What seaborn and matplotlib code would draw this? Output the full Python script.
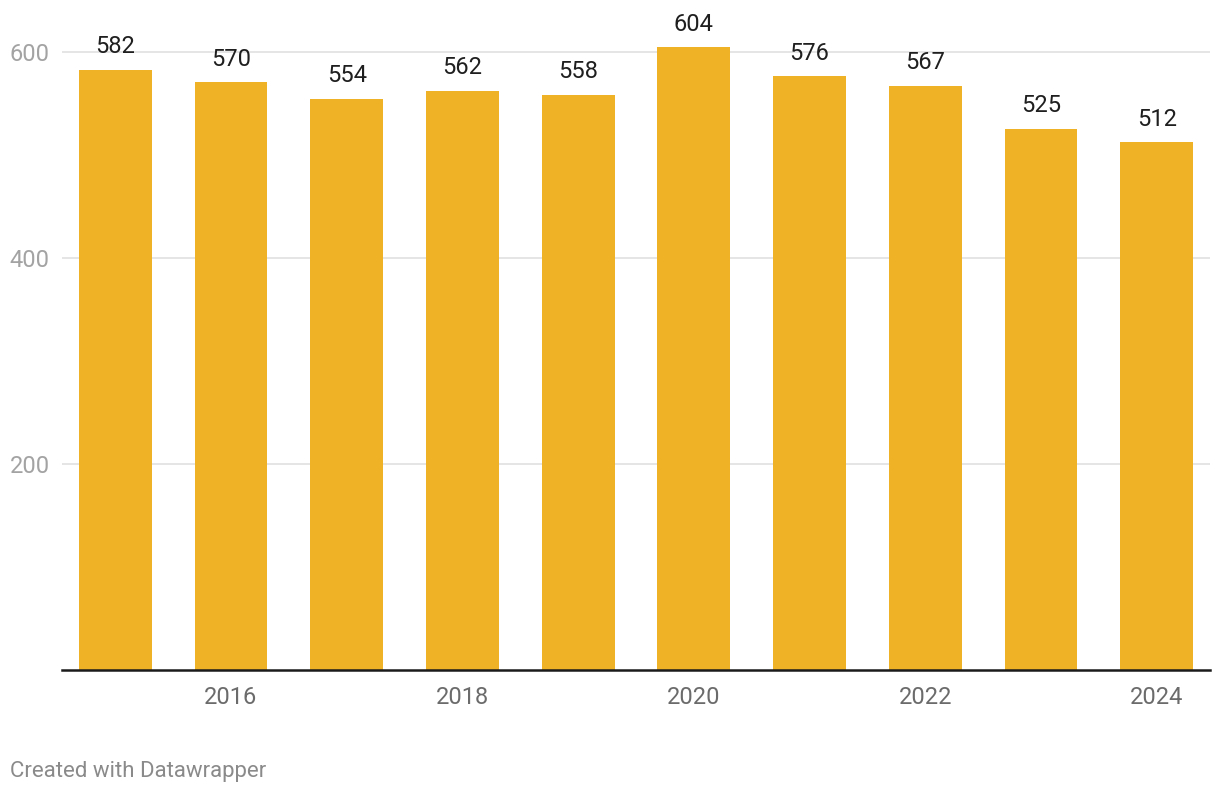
import matplotlib
matplotlib.use("Agg")
import matplotlib.pyplot as plt
import seaborn as sns
import pandas as pd

years = [2015, 2016, 2017, 2018, 2019, 2020, 2021, 2022, 2023, 2024]
values = [582, 570, 554, 562, 558, 604, 576, 567, 525, 512]
y_ticks = [200, 400, 600]
footer = "Created with Datawrapper"

sns.set_theme(style="white")
plt.rcParams['font.family'] = ['Roboto', 'DejaVu Sans']

df = pd.DataFrame({"year": [str(y) for y in years], "value": values})

fig = plt.figure(figsize=(12.2, 7.92), dpi=100)
ax = fig.add_axes([62/1220, 1 - 669.5/792, (1210-62)/1220, (669.5-31)/792])

sns.barplot(data=df, x="year", y="value", color="#efb125", width=0.63,
            saturation=1, linewidth=0, ax=ax, zorder=3)

ax.set_ylim(0, 620)
ax.set_xlim(-0.46, 9.46)

for spine in ["top", "right", "left"]:
    ax.spines[spine].set_visible(False)
ax.spines["bottom"].set_color("#1a1a1a")
ax.spines["bottom"].set_linewidth(1.8)
ax.spines["bottom"].set_zorder(5)

for t in y_ticks:
    ax.axhline(t, color="#e3e3e3", lw=1.3, zorder=1)

ax.set_yticks(y_ticks)
ax.set_yticklabels([str(t) for t in y_ticks])
ax.tick_params(axis="y", length=0, pad=37.5, labelsize=17, labelcolor="#a3a3a3")
for lab in ax.get_yticklabels():
    lab.set_horizontalalignment("left")

even_idx = [i for i, y in enumerate(years) if y % 2 == 0]
ax.set_xticks(even_idx)
ax.set_xticklabels([str(years[i]) for i in even_idx])
ax.tick_params(axis="x", length=0, pad=12, labelsize=17, labelcolor="#6b6b6b")
ax.set_xlabel("")
ax.set_ylabel("")

for i, v in enumerate(values):
    ax.annotate(str(v), (i, v), xytext=(0, 12), textcoords="offset points",
                ha="center", va="baseline", fontsize=17, color="#1f1f1f", zorder=6)

fig.text(10/1220, 1 - 777/792, footer, ha="left", va="baseline",
         fontsize=16, color="#8a8a8a")

fig.savefig("out.png", dpi=100, facecolor="white")
